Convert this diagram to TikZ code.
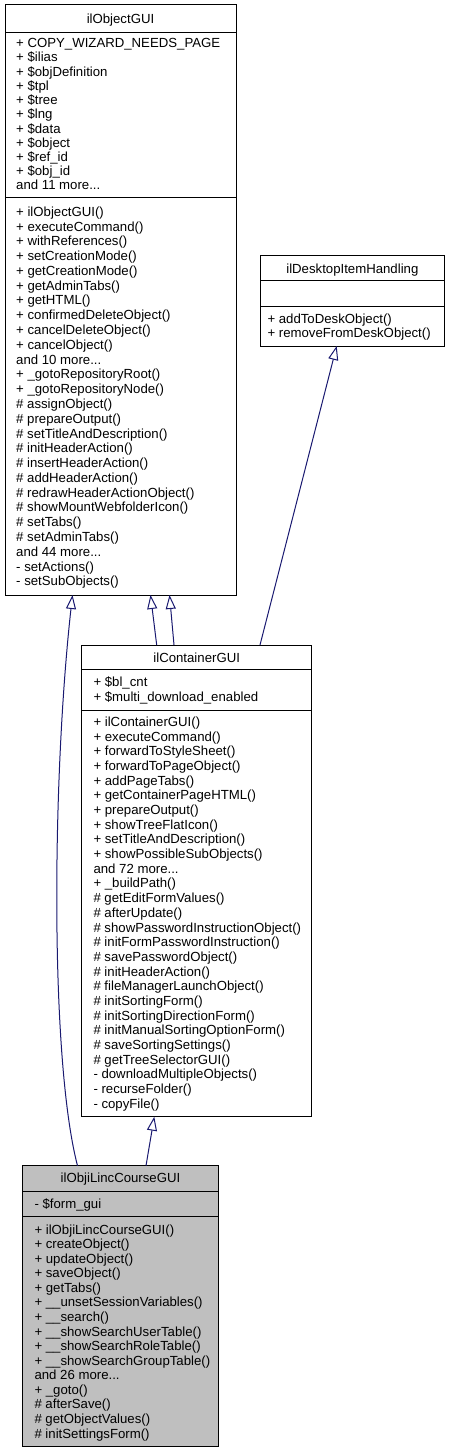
\documentclass[tikz,border=0pt]{standalone}
\usepackage{fontspec}
\setmainfont{Liberation Sans}
\usetikzlibrary{arrows.meta,calc}
\definecolor{edgeblue}{RGB}{25,25,112}
\definecolor{hilite}{RGB}{191,191,191}
\tikzset{
  classbox/.style={draw=black, line width=1pt, rectangle, inner sep=0pt, outer sep=0pt, fill=white},
  member/.style={anchor=base west, inner sep=0pt, font=\fontsize{13.2}{15}\selectfont},
  ctitle/.style={anchor=base, inner sep=0pt, font=\fontsize{13.2}{15}\selectfont},
  sepline/.style={draw=black, line width=1pt},
  inherit/.style={draw=edgeblue, line width=1pt, -{Triangle[open,length=14pt,width=10pt]}}
}
\newcommand\mydots{.{}.{}.}
\newcommand\memberlines[4]{%
  \foreach \t [count=\i from 0] in {#4} \node[member] at (#1, #2+4.8+\i*#3) {\t};}
\begin{document}
\begin{tikzpicture}[x=1pt,y=-1pt]
\useasboundingbox (0,0) rectangle (450,1453);

% ---------- ilObjectGUI ----------
\node[classbox, minimum width=231pt, minimum height=590pt] (objgui) at (120.5,300) {};
\node[ctitle] (objguititle) at (120.5,23.3) {ilObjectGUI};
\draw[sepline] (objgui.west |- 0,32.5) -- (objgui.east |- 0,32.5);
\draw[sepline] (objgui.west |- 0,197) -- (objgui.east |- 0,197);
\memberlines{16}{43}{14.2}{{+ COPY\_WIZARD\_NEEDS\_PAGE},{+ \$ilias},{+ \$objDefinition},{+ \$tpl},{+ \$tree},{+ \$lng},{+ \$data},{+ \$object},{+ \$ref\_id},{+ \$obj\_id},{and 11 more\mydots}}
\memberlines{16}{211.5}{14.78}{{+ ilObjectGUI()},{+ executeCommand()},{+ withReferences()},{+ setCreationMode()},{+ getCreationMode()},{+ getAdminTabs()},{+ getHTML()},{+ confirmedDeleteObject()},{+ cancelDeleteObject()},{+ cancelObject()},{and 10 more\mydots},{+ \_gotoRepositoryRoot()},{+ \_gotoRepositoryNode()},{\# assignObject()},{\# prepareOutput()},{\# setTitleAndDescription()},{\# initHeaderAction()},{\# insertHeaderAction()},{\# addHeaderAction()},{\# redrawHeaderActionObject()},{\# showMountWebfolderIcon()},{\# setTabs()},{\# setAdminTabs()},{and 44 more\mydots},{- setActions()},{- setSubObjects()}}

% ---------- ilDesktopItemHandling ----------
\node[classbox, minimum width=183.3pt, minimum height=91pt] (desk) at (352.35,300.5) {};
\node[ctitle] (desktitle) at (352.35,273) {ilDesktopItemHandling};
\draw[sepline] (desk.west |- 0,280.7) -- (desk.east |- 0,280.7);
\draw[sepline] (desk.west |- 0,306) -- (desk.east |- 0,306);
\memberlines{267.3}{318.5}{14.5}{{+ addToDeskObject()},{+ removeFromDeskObject()}}

% ---------- ilContainerGUI ----------
\node[classbox, minimum width=230pt, minimum height=471.7pt] (cont) at (196.7,880.85) {};
\node[ctitle] (conttitle) at (196.7,662) {ilContainerGUI};
\draw[sepline] (cont.west |- 0,669) -- (cont.east |- 0,669);
\draw[sepline] (cont.west |- 0,710) -- (cont.east |- 0,710);
\memberlines{93.3}{681.7}{14.8}{{+ \$bl\_cnt},{+ \$multi\_download\_enabled}}
\memberlines{93.3}{721.7}{14.68}{{+ ilContainerGUI()},{+ executeCommand()},{+ forwardToStyleSheet()},{+ forwardToPageObject()},{+ addPageTabs()},{+ getContainerPageHTML()},{+ prepareOutput()},{+ showTreeFlatIcon()},{+ setTitleAndDescription()},{+ showPossibleSubObjects()},{and 72 more\mydots},{+ \_buildPath()},{\# getEditFormValues()},{\# afterUpdate()},{\# showPasswordInstructionObject()},{\# initFormPasswordInstruction()},{\# savePasswordObject()},{\# initHeaderAction()},{\# fileManagerLaunchObject()},{\# initSortingForm()},{\# initSortingDirectionForm()},{\# initManualSortingOptionForm()},{\# saveSortingSettings()},{\# getTreeSelectorGUI()},{- downloadMultipleObjects()},{- recurseFolder()},{- copyFile()}}

% ---------- ilObjiLincCourseGUI ----------
\node[classbox, fill=hilite, minimum width=195.6pt, minimum height=281pt] (linc) at (120.5,1306.2) {};
\node[ctitle] (linctitle) at (120.5,1182.3) {ilObjiLincCourseGUI};
\draw[sepline] (linc.west |- 0,1191.7) -- (linc.east |- 0,1191.7);
\draw[sepline] (linc.west |- 0,1216.7) -- (linc.east |- 0,1216.7);
\memberlines{34.3}{1203.3}{14.6}{{- \$form\_gui}}
\memberlines{34.3}{1229.3}{14.57}{{+ ilObjiLincCourseGUI()},{+ createObject()},{+ updateObject()},{+ saveObject()},{+ getTabs()},{+ \_\_unsetSessionVariables()},{+ \_\_search()},{+ \_\_showSearchUserTable()},{+ \_\_showSearchRoleTable()},{+ \_\_showSearchGroupTable()},{and 26 more\mydots},{+ \_goto()},{\# afterSave()},{\# getObjectValues()},{\# initSettingsForm()}}

% ---------- inheritance edges ----------
\draw[inherit] ($(linc.north west)+(54.8,0)$) .. controls (50,1060) and (52,780) .. ($(objgui.south west)+(67.5,0)$);
\draw[inherit] ($(cont.north west)+(75,0)$) -- ($(objgui.south west)+(145.5,0)$);
\draw[inherit] ($(cont.north west)+(92.3,0)$) -- ($(objgui.south west)+(164.5,0)$);
\draw[inherit] ($(cont.north west)+(178.3,0)$) -- ($(desk.south west)+(76,0)$);
\draw[inherit] ($(linc.north west)+(123.3,0)$) -- ($(cont.south west)+(72.6,0)$);
\end{tikzpicture}
\end{document}
